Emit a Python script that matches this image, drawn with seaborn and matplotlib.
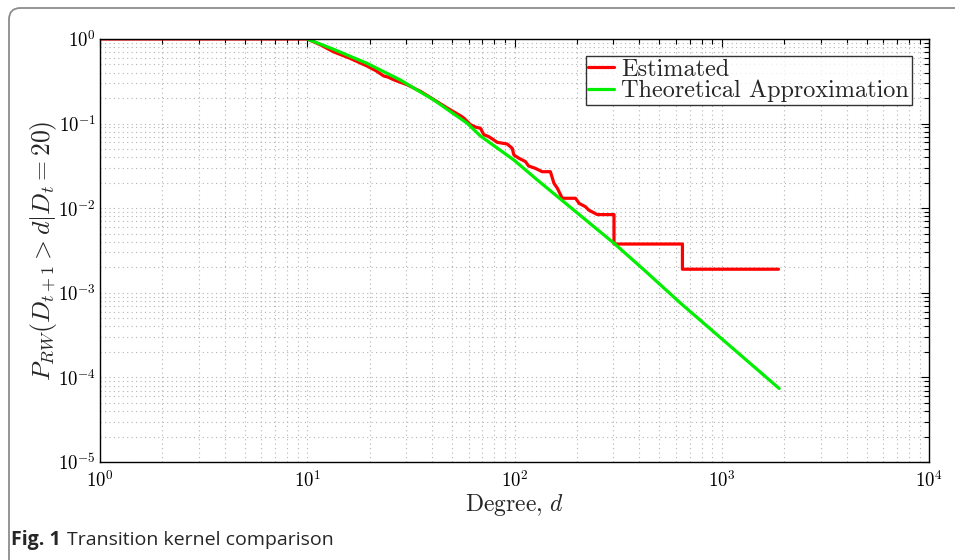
import numpy as np
import pandas as pd
import matplotlib
matplotlib.use("Agg")
import matplotlib.pyplot as plt
import matplotlib.ticker as mticker
from matplotlib.patches import FancyBboxPatch
import seaborn as sns

# values (degree d, probability)
est_d = [1, 10, 11.6, 13.4, 16.1, 19.4, 21.5, 23.4, 24.5, 26.1, 30.3, 35.2, 40.8,
         47.3, 54.8, 57, 61.3, 64.8, 68.5, 71.1, 75.2, 79.5, 82.5, 92.2, 97.5,
         99.3, 104.9, 113, 117, 126, 136, 149, 155, 161, 170, 197, 205, 220,
         228, 251, 302, 302, 646, 646, 1879]
est_p = [1.0, 1.0, 0.85, 0.705, 0.59, 0.48, 0.42, 0.365, 0.355, 0.33, 0.288, 0.24,
         0.192, 0.153, 0.124, 0.116, 0.097, 0.091, 0.088, 0.074, 0.070, 0.064,
         0.060, 0.0574, 0.051, 0.0426, 0.039, 0.0355, 0.0315, 0.0296, 0.027,
         0.027, 0.0197, 0.0172, 0.0131, 0.0131, 0.0114, 0.0104, 0.0095, 0.0084,
         0.0084, 0.00377, 0.00377, 0.0019, 0.0019]

theo_d = [10, 13.4, 19.4, 28.1, 40.8, 59.1, 68.5, 99.3, 129, 302, 422, 634, 1892]
theo_p = [1.0, 0.755, 0.516, 0.328, 0.190, 0.101, 0.0713, 0.0371, 0.0215,
          0.00385, 0.00186, 0.00075, 7.4e-5]

labels = ["Estimated", "Theoretical Approximation"]

df = pd.concat([
    pd.DataFrame({"d": est_d, "p": est_p, "series": labels[0]}),
    pd.DataFrame({"d": theo_d, "p": theo_p, "series": labels[1]}),
])

sns.set_style("white")
plt.rcParams["font.family"] = ["cmr10", "DejaVu Serif"]
plt.rcParams["mathtext.fontset"] = "cm"
plt.rcParams["axes.formatter.use_mathtext"] = True

fig = plt.figure(figsize=(9.55, 5.6), dpi=100)
ax = fig.add_axes([0.1047, 0.175, 0.8681, 0.7554])

sns.lineplot(data=df, x="d", y="p", hue="series", estimator=None, sort=False,
             palette={labels[0]: "#ff0000", labels[1]: "#00ee00"},
             linewidth=2.3, ax=ax)

ax.set_xscale("log")
ax.set_yscale("log")
ax.set_xlim(1, 1e4)
ax.set_ylim(1e-5, 1)

fmt = mticker.FuncFormatter(lambda v, pos: r"$10^{%d}$" % round(np.log10(v)))
ax.xaxis.set_major_locator(mticker.LogLocator(base=10, numticks=10))
ax.yaxis.set_major_locator(mticker.LogLocator(base=10, numticks=10))
ax.xaxis.set_minor_locator(mticker.LogLocator(base=10, subs=np.arange(2, 10), numticks=20))
ax.yaxis.set_minor_locator(mticker.LogLocator(base=10, subs=np.arange(2, 10), numticks=20))
ax.xaxis.set_major_formatter(fmt)
ax.yaxis.set_major_formatter(fmt)
ax.xaxis.set_minor_formatter(mticker.NullFormatter())
ax.yaxis.set_minor_formatter(mticker.NullFormatter())

ax.tick_params(which="both", direction="in", top=True, right=True, colors="black",
               labelsize=13.5, width=0.8)
ax.tick_params(which="major", length=6)
ax.tick_params(which="minor", length=3.5)
ax.tick_params(axis="x", pad=6)
ax.tick_params(axis="y", pad=3)

ax.grid(True, which="both", linestyle=(0, (1, 3)), color="#b4b4b4", linewidth=0.8)
for s in ax.spines.values():
    s.set_color("black")
    s.set_linewidth(1.0)

ax.set_xlabel(r"Degree, $d$", fontsize=17)
ax.xaxis.set_label_coords(0.5, -0.07)
ax.set_ylabel(r"$P_{RW}(D_{t+1} > d|D_t = 20)$", fontsize=18.5)
ax.yaxis.set_label_coords(-0.05, 0.5)

h, l = ax.get_legend_handles_labels()
leg = ax.legend(h, l, loc="upper right", bbox_to_anchor=(0.9795, 0.96),
                fontsize=17.5, frameon=True, fancybox=False, borderpad=0.12,
                handlelength=1.05, handletextpad=0.3, labelspacing=-0.05,
                borderaxespad=0)
leg.get_frame().set_edgecolor("black")
leg.get_frame().set_linewidth(1.0)

# caption and outer frame
cap = fig.text(0.011, 0.036, "Fig. 1", fontsize=14, fontweight="bold",
               family=["Open Sans", "DejaVu Sans"], va="center")
fig.canvas.draw()
bb = cap.get_window_extent().transformed(fig.transFigure.inverted())
fig.text(bb.x1 + 0.007, 0.036, "Transition kernel comparison", fontsize=14,
         family=["Open Sans", "DejaVu Sans"], va="center")
frame = FancyBboxPatch((9 / 955, -0.1), 1.1, 1.1 - 8 / 560,
                       boxstyle="round,pad=0,rounding_size=0.012",
                       mutation_aspect=955 / 560, transform=fig.transFigure,
                       facecolor="none", edgecolor="#8c8c8c", linewidth=1.3,
                       clip_on=False)
fig.patches.append(frame)

fig.savefig("out.png", dpi=100)
